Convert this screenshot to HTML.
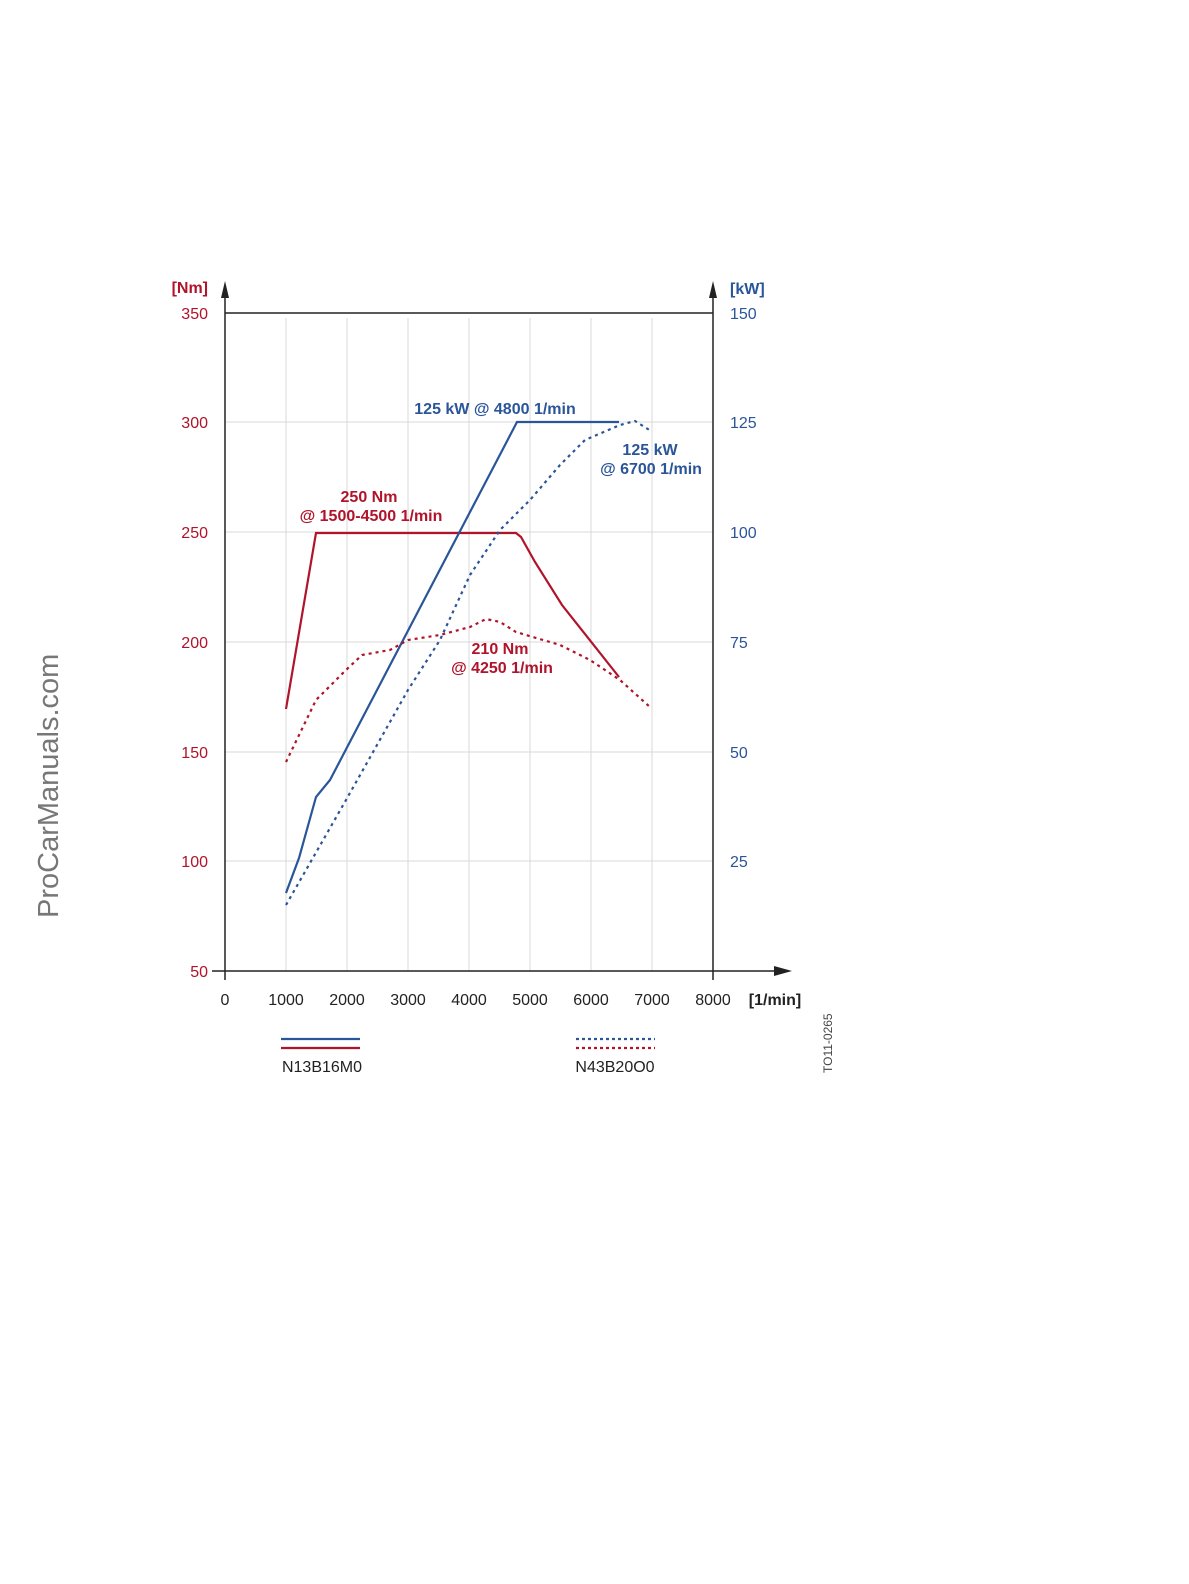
<!DOCTYPE html>
<html><head><meta charset="utf-8"><style>
html,body{margin:0;padding:0;background:#fff;overflow:hidden;width:1189px;height:1584px;}
svg{display:block;font-family:"Liberation Sans",sans-serif;}
</style></head><body>
<svg width="1189" height="1584" viewBox="0 0 1189 1584" xmlns="http://www.w3.org/2000/svg">
<g stroke="#d8d8d8" stroke-width="1">
<line x1="286" y1="318" x2="286" y2="971"/><line x1="347" y1="318" x2="347" y2="971"/><line x1="408" y1="318" x2="408" y2="971"/><line x1="469" y1="318" x2="469" y2="971"/><line x1="530" y1="318" x2="530" y2="971"/><line x1="591" y1="318" x2="591" y2="971"/><line x1="652" y1="318" x2="652" y2="971"/>
<line x1="225" y1="422" x2="713" y2="422"/><line x1="225" y1="532" x2="713" y2="532"/><line x1="225" y1="642" x2="713" y2="642"/><line x1="225" y1="752" x2="713" y2="752"/><line x1="225" y1="861" x2="713" y2="861"/>
</g>
<g stroke="#222" stroke-width="1.5" fill="none">
<line x1="225" y1="296" x2="225" y2="980"/><line x1="713" y1="296" x2="713" y2="980"/>
<line x1="225" y1="313" x2="713" y2="313"/><line x1="212" y1="971" x2="780" y2="971"/>
</g>
<polygon points="225,281 221,298 229,298" fill="#222"/>
<polygon points="713,281 709,298 717,298" fill="#222"/>
<polygon points="792,971 774,966 774,976" fill="#222"/>
<g fill="none" stroke-width="2.2">
<polyline stroke="#b0132a" points="286,709 316,533 516,533 521,537 535,562 562,605 619,677"/>
<polyline stroke="#2a5599" points="286,893 299,858 316,797 330,780 365,713 517,422 619,422"/>
<polyline stroke="#2a5599" stroke-dasharray="3,4" points="286,905 346,800 408,690 440,640 470,575 500,530 530,500 560,465 585,440 620,425 635,421 651,431"/>
<polyline stroke="#b0132a" stroke-dasharray="3,4" points="286,762 316,700 346,670 362,655 390,650 408,640 440,635 470,627 486,619 500,622 516,632 560,645 590,660 620,680 651,708"/>
<line x1="281" y1="1039" x2="360" y2="1039" stroke="#2a5599"/>
<line x1="281" y1="1048" x2="360" y2="1048" stroke="#b0132a"/>
<line x1="576" y1="1039" x2="655" y2="1039" stroke="#2a5599" stroke-dasharray="3,3"/>
<line x1="576" y1="1048" x2="655" y2="1048" stroke="#b0132a" stroke-dasharray="3,3"/>
</g>
<g fill="#b0132a" font-size="16" text-anchor="end">
<text x="208" y="293" font-weight="bold">[Nm]</text>
<text x="208" y="319">350</text><text x="208" y="428">300</text><text x="208" y="538">250</text><text x="208" y="648">200</text><text x="208" y="758">150</text><text x="208" y="867">100</text><text x="208" y="977">50</text>
</g>
<g fill="#2a5599" font-size="16">
<text x="730" y="294" font-weight="bold">[kW]</text>
<text x="730" y="319">150</text><text x="730" y="428">125</text><text x="730" y="538">100</text><text x="730" y="648">75</text><text x="730" y="758">50</text><text x="730" y="867">25</text>
</g>
<g fill="#222" font-size="16" text-anchor="middle">
<text x="225" y="1005">0</text><text x="286" y="1005">1000</text><text x="347" y="1005">2000</text><text x="408" y="1005">3000</text><text x="469" y="1005">4000</text><text x="530" y="1005">5000</text><text x="591" y="1005">6000</text><text x="652" y="1005">7000</text><text x="713" y="1005">8000</text>
<text x="775" y="1005" font-weight="bold">[1/min]</text>
<text x="322" y="1072">N13B16M0</text><text x="615" y="1072">N43B20O0</text>
</g>
<g font-weight="bold" font-size="16" text-anchor="middle">
<text x="495" y="414" fill="#2a5599">125 kW @ 4800 1/min</text>
<text x="650" y="455" fill="#2a5599">125 kW</text>
<text x="651" y="474" fill="#2a5599">@ 6700 1/min</text>
<text x="369" y="502" fill="#b0132a">250 Nm</text>
<text x="371" y="521" fill="#b0132a">@ 1500-4500 1/min</text>
<text x="500" y="654" fill="#b0132a">210 Nm</text>
<text x="502" y="673" fill="#b0132a">@ 4250 1/min</text>
</g>
<text x="0" y="0" transform="translate(832,1073) rotate(-90)" font-size="12" fill="#444">TO11-0265</text>
<text x="0" y="0" transform="translate(58,918) rotate(-90)" font-size="29" fill="#777">ProCarManuals.com</text>
</svg>
</body></html>
